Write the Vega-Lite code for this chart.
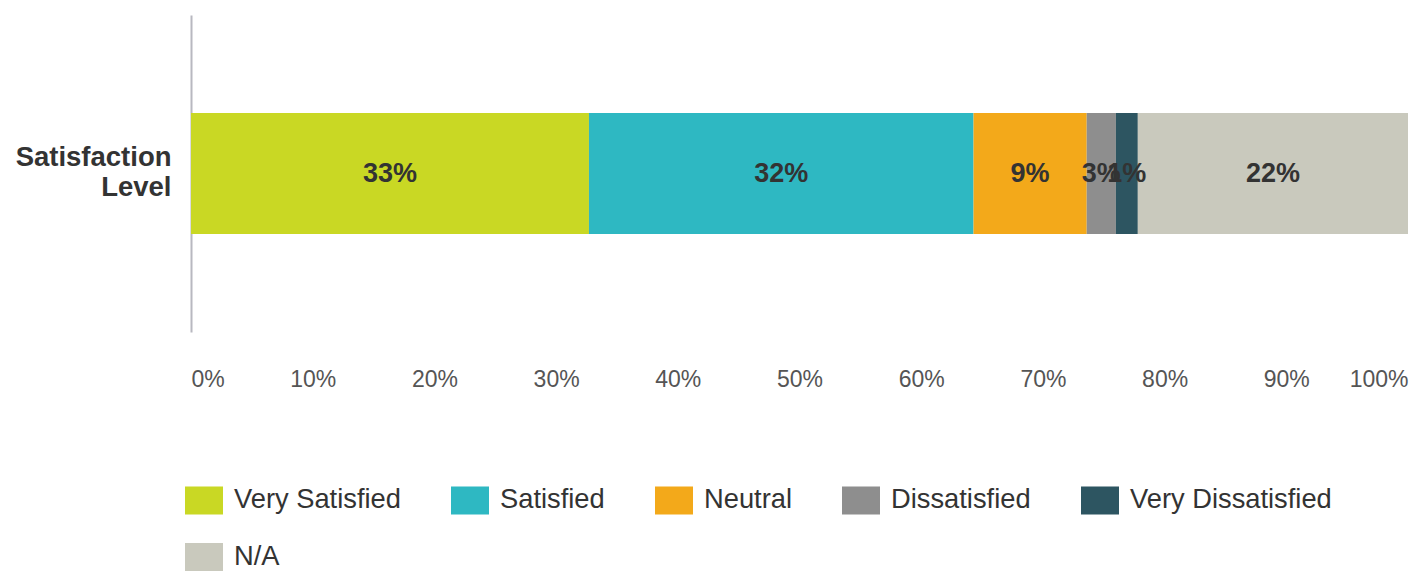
{
  "$schema": "https://vega.github.io/schema/vega-lite/v6.json",
  "width": 1217,
  "height": 317,
  "autosize": {"type": "none"},
  "padding": {"left": 191, "top": 15, "right": 6, "bottom": 241},
  "background": "white",
  "config": {"font": "Liberation Sans", "view": {"stroke": null}},
  "data": {
    "values": [
      {"q": "Satisfaction Level", "level": "Very Satisfied", "value": 32.7, "label": "33%", "ord": 1},
      {"q": "Satisfaction Level", "level": "Satisfied", "value": 31.6, "label": "32%", "ord": 2},
      {"q": "Satisfaction Level", "level": "Neutral", "value": 9.3, "label": "9%", "ord": 3},
      {"q": "Satisfaction Level", "level": "Dissatisfied", "value": 2.4, "label": "3%", "ord": 4},
      {"q": "Satisfaction Level", "level": "Very Dissatisfied", "value": 1.8, "label": "1%", "ord": 5},
      {"q": "Satisfaction Level", "level": "N/A", "value": 22.2, "label": "22%", "ord": 6}
    ]
  },
  "transform": [
    {"stack": "value", "groupby": ["q"], "sort": [{"field": "ord"}], "as": ["v0", "v1"]},
    {"calculate": "(datum.v0 + datum.v1) / 2", "as": "mid"}
  ],
  "encoding": {
    "y": {
      "field": "q", "type": "nominal", "title": null,
      "scale": {"paddingInner": 0, "paddingOuter": 0},
      "axis": {
        "domain": true, "domainColor": "#b8b8c0", "domainWidth": 2, "ticks": false,
        "labelExpr": "split(datum.label, ' ')",
        "labelFont": "Liberation Sans", "labelFontSize": 27.5, "labelFontWeight": "bold",
        "labelColor": "#333333", "labelPadding": 20, "labelLineHeight": 30, "labelOffset": -16
      }
    }
  },
  "layer": [
    {
      "mark": {"type": "bar", "height": {"band": 0.382}},
      "encoding": {
        "x": {
          "field": "v0", "type": "quantitative",
          "scale": {"domain": [0, 100], "nice": false},
          "axis": {
            "title": null, "values": [0,10,20,30,40,50,60,70,80,90,100],
            "labelExpr": "datum.value + '%'", "domain": false, "ticks": false, "grid": false,
            "labelFlush": true, "labelFontSize": 23, "labelColor": "#555555",
            "labelPadding": 36, "labelFont": "Liberation Sans"
          }
        },
        "x2": {"field": "v1"},
        "color": {
          "field": "level", "type": "nominal",
          "scale": {
            "domain": ["Very Satisfied", "Satisfied", "Neutral", "Dissatisfied", "Very Dissatisfied", "N/A"],
            "range": ["#c9d824", "#2eb8c2", "#f3a91a", "#8e8e8e", "#2d5561", "#c9c9bd"]
          },
          "legend": {
            "title": null, "orient": "none", "legendX": -6, "legendY": 466,
            "direction": "horizontal", "columns": 5,
            "symbolType": "M-1,-0.74L1,-0.74L1,0.74L-1,0.74Z", "symbolSize": 1444, "symbolStrokeWidth": 0,
            "labelFontSize": 27.3, "labelColor": "#333333", "labelFont": "Liberation Sans",
            "labelLimit": 400,
            "labelOffset": 11, "columnPadding": 50, "rowPadding": 23, "symbolOpacity": 1
          }
        },
        "order": {"field": "ord"}
      }
    },
    {
      "mark": {"type": "text", "fontSize": 27, "fontWeight": "bold", "color": "#333333", "font": "Liberation Sans"},
      "encoding": {
        "x": {"field": "mid", "type": "quantitative"},
        "text": {"field": "label"}
      }
    }
  ]
}
